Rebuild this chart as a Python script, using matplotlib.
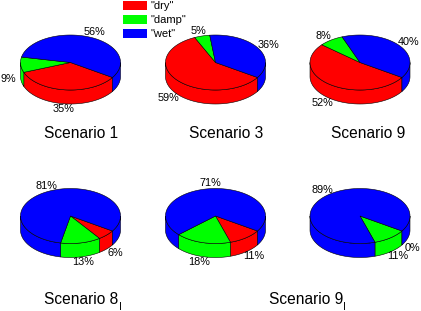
import numpy as np
import matplotlib
matplotlib.use("Agg")
import matplotlib.pyplot as plt
from matplotlib.patches import Patch

plt.rcParams['font.family'] = ['Liberation Sans', 'DejaVu Sans']

categories = ['"dry"', '"damp"', '"wet"']
colors = ['#ff0000', '#00ff00', '#0000ff']

titles = ['Scenario 1', 'Scenario 3', 'Scenario 9', 'Scenario 8', None, 'Scenario 9']
subscripts = [None, None, None, 'I', None, 'I']
dry = [35, 59, 52, 6, 11, 0]
damp = [9, 5, 8, 13, 18, 11]
wet = [56, 36, 40, 81, 71, 89]

centers_x = [70.5, 215.5, 360, 70.5, 215.5, 360]
centers_y = [62.5, 62.5, 62.5, 216, 216, 216]
title_x = [81, 226, 368, 81.5, None, 306]
title_y = [134, 134, 134, 299, None, 299]

rx = 50
ry = 27.5
depth = 14
start = -33


def draw_pie(ax, cx, cy, values):
    a = start
    for v, c in zip(values, colors):
        b = a - v * 3.6
        # side wall, only the part facing the viewer
        for w0, w1 in [(-180, 0), (-540, -360)]:
            lo = max(b, w0)
            hi = min(a, w1)
            if hi > lo:
                th = np.radians(np.linspace(lo, hi, 50))
                xs = cx + rx * np.cos(th)
                ys = cy - ry * np.sin(th)
                ax.fill(np.r_[xs, xs[::-1]], np.r_[ys, ys[::-1] + depth],
                        facecolor=c, edgecolor='k', lw=0.4, zorder=2)
        a = b

    a = start
    for v, c in zip(values, colors):
        b = a - v * 3.6
        if v > 0:
            th = np.radians(np.linspace(a, b, 100))
            xs = np.r_[cx, cx + rx * np.cos(th)]
            ys = np.r_[cy, cy - ry * np.sin(th)]
            ax.fill(xs, ys, facecolor=c, edgecolor='k', lw=0.4, zorder=3)
        # percent label sits outside the slice, lower for the front half
        mid = np.radians((a + b) / 2)
        lx = cx + 1.25 * rx * np.cos(mid)
        ly = cy - 1.2 * ry * np.sin(mid)
        if np.sin(mid) < 0:
            ly += depth
        ax.text(lx, ly, '%d%%' % v, fontsize=7.8, ha='center', va='center', zorder=4)
        a = b


fig = plt.figure(figsize=(4.21, 3.11), dpi=100)
ax = fig.add_axes([0, 0, 1, 1])
ax.set_xlim(0, 421)
ax.set_ylim(311, 0)
ax.axis('off')

for i in range(6):
    draw_pie(ax, centers_x[i], centers_y[i], [dry[i], damp[i], wet[i]])
    if titles[i] is not None:
        ax.text(title_x[i], title_y[i], titles[i], fontsize=11.2, ha='center', va='center')
    if subscripts[i] is not None:
        ax.text(title_x[i] + 38.5, title_y[i] + 8, subscripts[i], fontsize=7.5, ha='center', va='center')

handles = [Patch(facecolor=c, edgecolor='none', label=l) for c, l in zip(colors, categories)]
fig.legend(handles=handles, loc='upper left', bbox_to_anchor=(123.5 / 421, 1 - 1 / 311), frameon=False,
           fontsize=8, handlelength=2.15, handleheight=0.9, labelspacing=0.3,
           handletextpad=0.3, borderaxespad=0, borderpad=0)

plt.savefig('out.png', dpi=100)
